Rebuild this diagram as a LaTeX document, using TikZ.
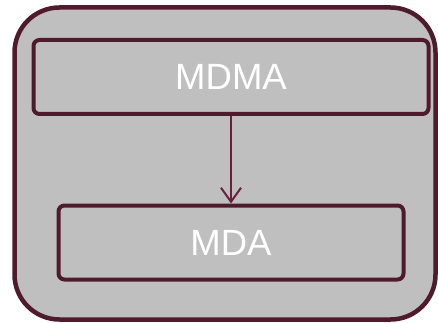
\documentclass[tikz,border=0pt]{standalone}
\usepackage{fontspec}
\setmainfont{Liberation Sans}
\usepackage{tikz}
\usetikzlibrary{positioning,arrows.meta}
\usepackage{xcolor}
\definecolor{wine}{HTML}{4F1A2C}
\definecolor{winearrow}{HTML}{6A1F3D}
\definecolor{panelgray}{HTML}{BFBFBF}

\begin{document}
\begin{tikzpicture}[x=1pt, y=-1pt, >={Straight Barb[length=14pt,width=20pt]}, node distance=87.5pt,
   b/.style={draw=wine, line width=4pt, fill=panelgray, rounded corners=6pt, minimum height=74pt,
             text=white, font=\fontsize{36.5}{40}\selectfont}]
  \useasboundingbox (0,0) rectangle (438,323);
  \node[draw=wine, line width=4.5pt, fill=panelgray, rounded corners=45pt,
        minimum width=421pt, minimum height=312pt] (outer) at (225,163.5) {};
  \node[b, minimum width=395pt] (mdma) at (231,77) {MDMA};
  \node[b, minimum width=345pt, below=of mdma] (mda) {MDA};
  \draw[->, winearrow, line width=2pt] (mdma) -- (mda);
\end{tikzpicture}
\end{document}
